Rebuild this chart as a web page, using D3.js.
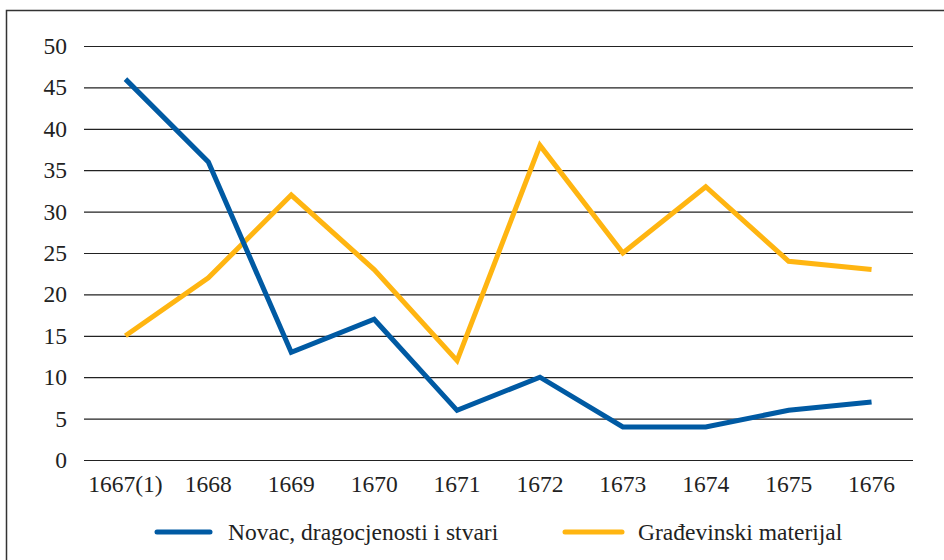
<!DOCTYPE html>
<html><head><meta charset="utf-8">
<script src="https://cdn.jsdelivr.net/npm/d3@7"></script>
<style>body{margin:0;background:#fff}svg{display:block}</style>
</head><body>
<script>
const categories = ["1667(1)","1668","1669","1670","1671","1672","1673","1674","1675","1676"];
const novac = [46,36,13,17,6,10,4,4,6,7];
const gradjevinski = [15,22,32,23,12,38,25,33,24,23];
const yTicks = [0,5,10,15,20,25,30,35,40,45,50];
const seriesNames = ["Novac, dragocjenosti i stvari","Građevinski materijal"];
const colors = ["#005aa3","#ffb511"];

(function(){
const W=944,H=560;
const FF='"Liberation Serif"';
const svg=d3.select("body").append("svg").attr("width",W).attr("height",H);
svg.append("rect").attr("x",6.5).attr("y",10.5).attr("width",W).attr("height",H).attr("fill","none").attr("stroke","#333").attr("stroke-width",1.5);

const mL=84,mR=913,mT=46,mB=460;
const x=d3.scaleBand().domain(categories).range([mL,mR]);
const y=d3.scaleLinear().domain([0,50]).range([mB,mT]);
const fs=23.5;

const ya=svg.append("g").attr("transform",`translate(${mL},0)`)
 .call(d3.axisLeft(y).tickValues(yTicks).tickSize(-(mR-mL)).tickPadding(17));
ya.select(".domain").remove();
ya.attr("font-family",null);
ya.selectAll("line").attr("stroke","#222").attr("stroke-width",1.2);
ya.selectAll("text").style("font-family",FF).attr("font-size",fs).attr("fill","#222");

const xa=svg.append("g").attr("transform",`translate(0,${mB})`)
 .call(d3.axisBottom(x).tickSize(0).tickPadding(15));
xa.select(".domain").remove();
xa.attr("font-family",null);
xa.selectAll("text").style("font-family",FF).attr("font-size",fs).attr("fill","#222");

const line=d3.line().x((d,i)=>x(categories[i])+x.bandwidth()/2).y(d=>y(d));
[[gradjevinski,colors[1]],[novac,colors[0]]].forEach(([s,c])=>{
  svg.append("path").datum(s).attr("d",line).attr("fill","none")
   .attr("stroke",c).attr("stroke-width",5).attr("stroke-linejoin","miter");
});

const leg=[{x0:157,x1:210,tx:228},{x0:565,x1:622,tx:638}];
leg.forEach((l,i)=>{
  svg.append("line").attr("x1",l.x0).attr("x2",l.x1).attr("y1",532).attr("y2",532)
   .attr("stroke",colors[i]).attr("stroke-width",5).attr("stroke-linecap","round");
  svg.append("text").attr("x",l.tx).attr("y",540).style("font-family",FF).attr("font-size",fs).attr("fill","#222").text(seriesNames[i]);
});
})();
</script>
</body></html>
